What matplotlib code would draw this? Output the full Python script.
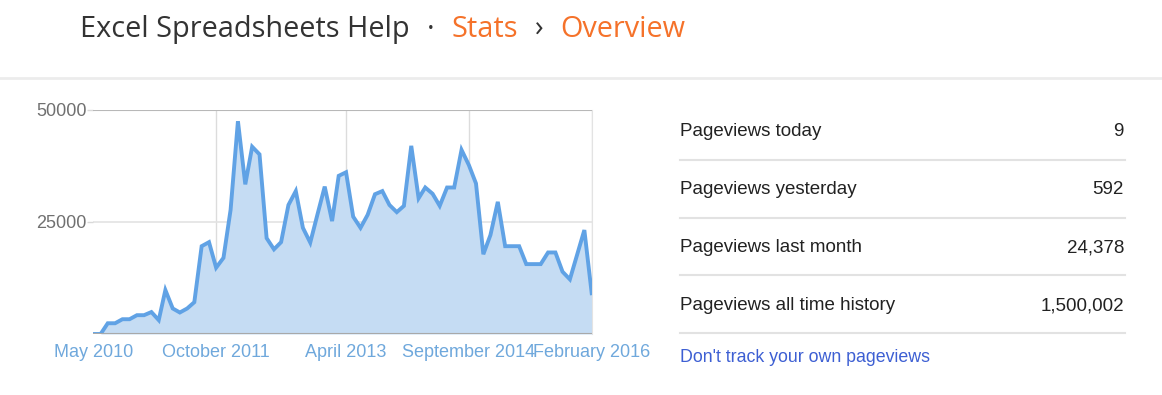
import matplotlib
matplotlib.use("Agg")
import matplotlib.pyplot as plt
import matplotlib.dates as mdates
import numpy as np
import pandas as pd

# ---------------- data ----------------
start_month = "2010-05"
pageviews = [0, 0, 2400, 2400, 3300, 3300, 4200, 4200, 4900, 3100,
             9800, 5700, 4800, 5700, 7100, 19600, 20500, 14800, 17000, 27700,
             47500, 33400, 41800, 40100, 21400, 18900, 20500, 28800, 31900, 23700,
             20400, 26600, 32900, 25200, 35300, 36100, 26200, 23700, 26600, 31200,
             31900, 28800, 27200, 28600, 42000, 30300, 32700, 31300, 28600, 32700,
             32700, 41100, 37700, 33600, 17800, 22100, 29500, 19600, 19600, 19600,
             15600, 15600, 15600, 18200, 18200, 13900, 12200, 17600, 23200, 9100]
x_tick_dates = ["2010-05-01", "2011-10-01", "2013-04-01", "2014-09-01", "2016-02-01"]
x_tick_labels = ["May 2010", "October 2011", "April 2013", "September 2014", "February 2016"]
y_ticks = [25000, 50000]
y_tick_labels = ["25000", "50000"]

stat_labels = ["Pageviews today", "Pageviews yesterday", "Pageviews last month",
               "Pageviews all time history"]
stat_values = ["9", "592", "24,378", "1,500,002"]

title_parts = ["Excel Spreadsheets Help", "\u00b7", "Stats", "\u203a", "Overview"]
# ---------------------------------------

W, H = 1162, 395
fig = plt.figure(figsize=(W / 100, H / 100), dpi=100)
fig.patch.set_facecolor("white")


def fx(px):
    return px / W


def fy(py):
    return 1 - py / H


months = pd.date_range(start_month + "-01", periods=len(pageviews), freq="MS")

# ---------- chart ----------
ax = fig.add_axes([fx(93.3), fy(334), fx(498.4), 224 / H])
line_c = "#60a2e5"
fill_c = "#c5dcf3"
ax.fill_between(months, pageviews, 0, color=fill_c, lw=0, zorder=2)
ax.plot(months, pageviews, color=line_c, lw=2.8, solid_joinstyle="miter", zorder=3)
ax.set_xlim(months[0], months[-1])
ax.set_ylim(0, 50000)

tick_dt = pd.to_datetime(x_tick_dates)
ax.set_xticks(tick_dt)
ax.set_xticklabels(x_tick_labels, color="#6fa8dc", fontsize=13, family="Liberation Sans")
ax.set_yticks(y_ticks)
ax.set_yticklabels(y_tick_labels, color="#707070", fontsize=13, family="Liberation Sans")
ax.tick_params(axis="x", length=0, pad=7)
ax.tick_params(axis="y", length=4, width=1, color="#d9d9d9", pad=1)
for t in tick_dt[1:]:
    ax.axvline(t, color="#dcdcdc", lw=1, zorder=1)
ax.axhline(25000, color="#e3e3e3", lw=1.2, zorder=1)
ax.axhline(50000, color="#b8b8b8", lw=1.5, zorder=4)
ax.axhline(0, color="#a9a9a9", lw=1.5, zorder=4)
for s in ["top", "left", "bottom"]:
    ax.spines[s].set_visible(False)
ax.spines["right"].set_color("#e3e3e3")
ax.set_facecolor("white")

# ---------- header ----------
fig.add_artist(plt.Line2D([0, 1], [fy(78), fy(78)], color="#ececec", lw=2.0,
                          transform=fig.transFigure))
renderer = fig.canvas.get_renderer()
colors = ["#333333", "#333333", "#f5722a", "#333333", "#f5722a"]
gaps = [0, 17, 17, 17, 17]
xpos = 80
for part, col, g in zip(title_parts, colors, gaps):
    xpos += g
    t = fig.text(fx(xpos), fy(37), part, color=col, fontsize=20.8, family="Open Sans",
                 ha="left", va="baseline")
    bb = t.get_window_extent(renderer)
    xpos += bb.width

# ---------- stats panel ----------
row_centers = [132, 190, 248, 306]
sep_y = [160, 217.5, 275, 333]
for lab, val, yc in zip(stat_labels, stat_values, row_centers):
    fig.text(fx(680), fy(yc), lab, color="#222222", fontsize=13.5, family="Liberation Sans",
             ha="left", va="center")
    fig.text(fx(1124), fy(yc), val, color="#222222", fontsize=13.5, family="Liberation Sans",
             ha="right", va="center")
for yy in sep_y:
    fig.add_artist(plt.Line2D([fx(680), fx(1125)], [fy(yy), fy(yy)], color="#e2e2e2",
                              lw=1.5, transform=fig.transFigure))
fig.text(fx(680), fy(358), "Don't track your own pageviews", color="#3d5fd3", fontsize=12.8,
         family="Liberation Sans", ha="left", va="center")

fig.savefig("out.png", dpi=100, facecolor="white")
